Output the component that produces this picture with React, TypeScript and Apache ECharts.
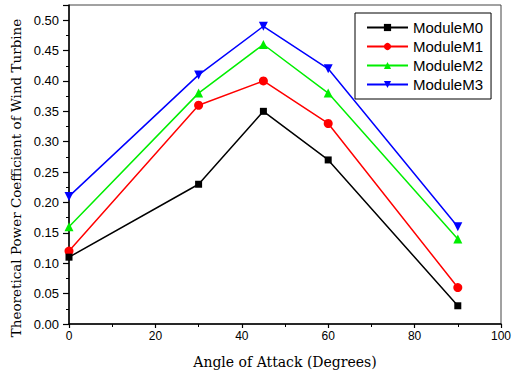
import React, { useEffect, useRef } from "react";
import * as echarts from "echarts";

const angles = [0, 30, 45, 60, 90];
const seriesNames = ["ModuleM0", "ModuleM1", "ModuleM2", "ModuleM3"];
const m0 = [0.11, 0.23, 0.35, 0.27, 0.03];
const m1 = [0.12, 0.36, 0.40, 0.33, 0.06];
const m2 = [0.16, 0.38, 0.46, 0.38, 0.14];
const m3 = [0.21, 0.41, 0.49, 0.42, 0.16];
const seriesValues = [m0, m1, m2, m3];
const colors = ["#000000", "#ff0000", "#00ee00", "#0000ff"];
const symbols = ["rect", "circle", "triangle", "path://M0,0 L10,0 L5,10 Z"];
const yTitle = "Theoretical Power Coefficient of Wind Turbine";
const xTitle = "Angle of Attack (Degrees)";

export default function App() {
  const ref = useRef<HTMLDivElement>(null);
  useEffect(() => {
    document.body.style.margin = "0";
    if (!ref.current) return;
    const chart = echarts.init(ref.current, null, { renderer: "svg" });
    chart.setOption({
      animation: false,
      backgroundColor: "#ffffff",
      grid: {
        left: 69,
        top: 5,
        right: 11,
        bottom: 52,
        containLabel: false,
        outerBoundsMode: "none",
        show: true,
        borderColor: "#444",
        borderWidth: 1,
      },
      graphic: [
        {
          type: "text",
          x: 16,
          y: 178,
          rotation: Math.PI / 2,
          style: {
            text: yTitle,
            fontFamily: "DejaVu Serif, serif",
            fontSize: 13.5,
            fill: "#000",
            align: "center",
            verticalAlign: "middle",
          },
        },
      ],
      legend: {
        orient: "vertical",
        left: 355,
        top: 13,
        width: 141,
        padding: [7, 8, 7, 11],
        itemWidth: 41,
        itemHeight: 9,
        itemGap: 4,
        borderColor: "#000",
        borderWidth: 1,
        data: seriesNames,
        textStyle: {
          fontFamily: "Liberation Sans, Arial, sans-serif",
          fontSize: 15,
          color: "#000",
          padding: [0, 0, 0, 0],
        },
      },
      xAxis: {
        type: "value",
        min: 0,
        max: 100,
        interval: 20,
        name: xTitle,
        nameLocation: "middle",
        nameGap: 31,
        nameTextStyle: {
          fontFamily: "DejaVu Serif, serif",
          fontSize: 14,
          color: "#000",
        },
        axisLine: { show: true, lineStyle: { color: "#000", width: 1.5 } },
        axisTick: { show: true, length: 4, lineStyle: { color: "#000", width: 1.2 } },
        minorTick: { show: true, splitNumber: 2, length: 3, lineStyle: { color: "#000", width: 1 } },
        splitLine: { show: false },
        axisLabel: {
          fontFamily: "Liberation Sans, Arial, sans-serif",
          fontSize: 12,
          color: "#000",
          margin: 6,
        },
      },
      yAxis: {
        type: "value",
        min: 0,
        max: 0.525,
        interval: 0.05,
        axisLine: { show: true, lineStyle: { color: "#000", width: 1.5 } },
        axisTick: { show: true, length: 6, lineStyle: { color: "#000", width: 1.2 } },
        minorTick: { show: true, splitNumber: 2, length: 3, lineStyle: { color: "#000", width: 1 } },
        splitLine: { show: false },
        axisLabel: {
          fontFamily: "Liberation Sans, Arial, sans-serif",
          fontSize: 13,
          color: "#000",
          margin: 10,
          showMaxLabel: false,
          formatter: (v: number) => v.toFixed(2),
        },
      },
      series: seriesValues.map((vals, i) => ({
        name: seriesNames[i],
        type: "line",
        data: angles.map((a, j) => [a, vals[j]]),
        symbol: symbols[i],
        symbolSize: i === 0 ? 7 : 9,
        showAllSymbol: true,
        z: 10 - i,
        lineStyle: { color: colors[i], width: 1.5 },
        itemStyle: { color: colors[i] },
      })),
    });
    return () => chart.dispose();
  }, []);
  return <div ref={ref} style={{ width: 512, height: 376 }} />;
}
